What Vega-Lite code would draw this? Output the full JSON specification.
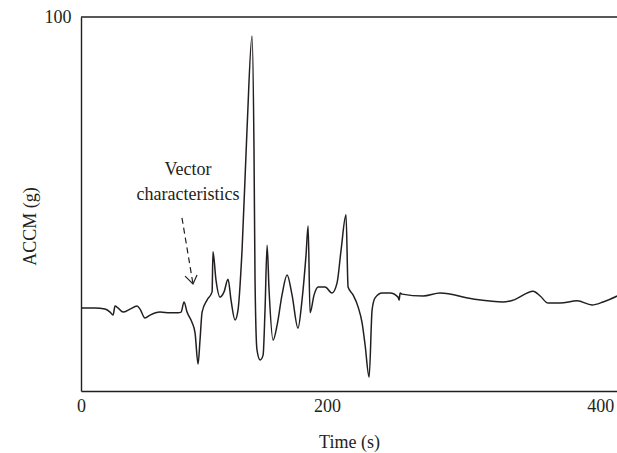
{
  "$schema": "https://vega.github.io/schema/vega-lite/v6.json",
  "width": 536,
  "height": 374,
  "autosize": "none",
  "padding": {"left": 81, "top": 17, "right": 0, "bottom": 62},
  "background": "white",
  "config": {
    "view": {"stroke": null},
    "font": "Liberation Serif",
    "axis": {"labelFont": "Liberation Serif", "titleFont": "Liberation Serif", "labelFontSize": 18, "titleFontSize": 18, "labelColor": "#231f20", "titleColor": "#231f20", "titleFontWeight": "normal", "domainColor": "#231f20", "domainWidth": 1.4, "ticks": false, "grid": false}
  },
  "datasets": {
    "curve": [
      {"t": 0, "a": 22.2}, {"t": 10.8, "a": 22.2}, {"t": 18.5, "a": 21.9}, {"t": 22.4, "a": 21.1}, {"t": 24.7, "a": 20.3},
      {"t": 26.2, "a": 22.7}, {"t": 28.5, "a": 22.2}, {"t": 32.4, "a": 21.1}, {"t": 37.8, "a": 21.9}, {"t": 43.2, "a": 22.7},
      {"t": 45.5, "a": 21.9}, {"t": 49.3, "a": 19.5}, {"t": 53.2, "a": 20.3}, {"t": 60.9, "a": 21.1}, {"t": 68.6, "a": 20.9},
      {"t": 74.8, "a": 20.9}, {"t": 77.1, "a": 21.1}, {"t": 79.4, "a": 23.8}, {"t": 81.7, "a": 21.1}, {"t": 85.5, "a": 18.4},
      {"t": 87.9, "a": 15.5}, {"t": 90.2, "a": 7.2}, {"t": 91.7, "a": 13.6}, {"t": 93.3, "a": 21.1}, {"t": 97.1, "a": 24.3},
      {"t": 101.0, "a": 26.5}, {"t": 101.7, "a": 37.2}, {"t": 104.0, "a": 29.7}, {"t": 107.1, "a": 25.1}, {"t": 110.2, "a": 26.5},
      {"t": 113.3, "a": 29.9}, {"t": 115.6, "a": 24.3}, {"t": 118.7, "a": 19.0}, {"t": 121.0, "a": 21.7}, {"t": 124.1, "a": 37.7},
      {"t": 127.9, "a": 69.8}, {"t": 131.8, "a": 94.9}, {"t": 133.3, "a": 64.4}, {"t": 134.1, "a": 29.7}, {"t": 135.6, "a": 11.0},
      {"t": 138.0, "a": 8.3}, {"t": 140.3, "a": 9.6}, {"t": 141.8, "a": 21.7}, {"t": 143.4, "a": 39.0}, {"t": 144.9, "a": 27.0},
      {"t": 148.0, "a": 13.6}, {"t": 151.1, "a": 17.6}, {"t": 154.9, "a": 25.7}, {"t": 158.8, "a": 31.0}, {"t": 162.6, "a": 25.7},
      {"t": 167.2, "a": 16.8}, {"t": 170.3, "a": 24.3}, {"t": 173.4, "a": 36.4}, {"t": 175.0, "a": 44.1}, {"t": 176.5, "a": 20.9},
      {"t": 179.6, "a": 25.7}, {"t": 182.7, "a": 27.8}, {"t": 188.1, "a": 27.8}, {"t": 193.4, "a": 26.2}, {"t": 197.3, "a": 28.9},
      {"t": 200.4, "a": 37.7}, {"t": 204.2, "a": 47.1}, {"t": 205.8, "a": 27.8}, {"t": 209.6, "a": 25.7}, {"t": 213.5, "a": 22.5},
      {"t": 216.6, "a": 18.2}, {"t": 218.9, "a": 12.3}, {"t": 222.0, "a": 3.7}, {"t": 224.3, "a": 21.7}, {"t": 226.6, "a": 24.9},
      {"t": 232.0, "a": 26.2}, {"t": 238.2, "a": 26.2}, {"t": 244.3, "a": 25.1}, {"t": 245.1, "a": 24.3}, {"t": 245.9, "a": 26.2},
      {"t": 247.4, "a": 25.9}, {"t": 263.6, "a": 25.4}, {"t": 276.7, "a": 26.2}, {"t": 302.1, "a": 24.6}, {"t": 325.2, "a": 23.8},
      {"t": 333.0, "a": 24.3}, {"t": 348.4, "a": 26.7}, {"t": 353.8, "a": 25.4}, {"t": 359.9, "a": 23.5}, {"t": 369.2, "a": 23.5},
      {"t": 382.3, "a": 24.1}, {"t": 393.8, "a": 23.0}, {"t": 402.3, "a": 23.8}, {"t": 413.1, "a": 25.4}
    ],
    "shaft": [{"t": 77.8, "a": 46.3}, {"t": 86.3, "a": 28.6}],
    "head": [{"t": 80.2, "a": 30.7, "o": 1}, {"t": 86.3, "a": 28.6, "o": 2}, {"t": 89.4, "a": 31.0, "o": 3}],
    "labels": [{"t": 82.5, "a": 59.1, "txt": "Vector"}, {"t": 82.5, "a": 52.4, "txt": "characteristics"}]
  },
  "layer": [
    {
      "data": {"name": "curve"},
      "mark": {"type": "line", "interpolate": "monotone", "color": "#231f20", "strokeWidth": 1.5},
      "encoding": {
        "x": {"field": "t", "type": "quantitative", "scale": {"domain": [0, 413], "nice": false, "zero": false},
              "axis": {"values": [0, 200, 400], "title": "Time (s)", "labelPadding": 6,
                       "labelAlign": {"condition": {"test": "datum.value == 200", "value": "right"}, "value": "center"},
                       "titleY": 51, "titleBaseline": "middle"}},
        "y": {"field": "a", "type": "quantitative", "scale": {"domain": [0, 100], "nice": false},
              "axis": {"values": [100], "title": "ACCM (g)", "labelPadding": 10, "labelBaseline": "middle",
                       "titleX": -51, "titleY": 209, "titleAlign": "center", "titleBaseline": "middle"}}
      }
    },
    {
      "data": {"values": [{}]},
      "mark": {"type": "rule", "color": "#231f20", "strokeWidth": 1.4},
      "encoding": {"y": {"datum": 100}}
    },
    {
      "data": {"name": "shaft"},
      "mark": {"type": "line", "color": "#231f20", "strokeWidth": 1.2, "strokeDash": [6, 4]},
      "encoding": {"x": {"field": "t", "type": "quantitative"}, "y": {"field": "a", "type": "quantitative"}}
    },
    {
      "data": {"name": "head"},
      "mark": {"type": "line", "color": "#231f20", "strokeWidth": 1.2},
      "encoding": {"x": {"field": "t", "type": "quantitative"}, "y": {"field": "a", "type": "quantitative"}, "order": {"field": "o"}}
    },
    {
      "data": {"name": "labels"},
      "mark": {"type": "text", "font": "Liberation Serif", "fontSize": 18, "color": "#231f20", "align": "center", "baseline": "middle"},
      "encoding": {"x": {"field": "t", "type": "quantitative"}, "y": {"field": "a", "type": "quantitative"}, "text": {"field": "txt"}}
    }
  ]
}
